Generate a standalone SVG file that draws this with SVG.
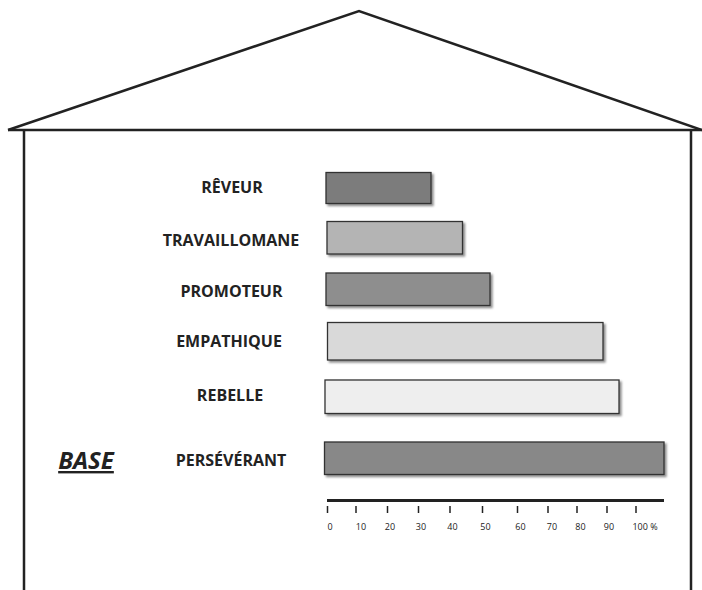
<svg xmlns="http://www.w3.org/2000/svg" width="702" height="590" viewBox="0 0 702 590">
<defs>
<filter id="sh" x="-10%" y="-20%" width="120%" height="160%">
<feDropShadow dx="2" dy="2" stdDeviation="1.2" flood-color="#000" flood-opacity="0.45"/>
</filter>
<style>
.house{fill:none;stroke:#222;stroke-width:2.5;stroke-linejoin:miter}
.bar{stroke:#333;stroke-width:1.3;filter:url(#sh)}
.lbl{font-family:"Open Sans","Liberation Sans",sans-serif;font-weight:bold;font-size:16px;fill:#222;text-anchor:middle}
.ax{font-family:"Open Sans","Liberation Sans",sans-serif;font-size:9px;fill:#222;text-anchor:middle}
.tick{stroke:#222;stroke-width:1.5}
</style>
</defs>
<rect width="702" height="590" fill="#fff"/>
<g id="house">
<polyline class="house" points="8,130 359,11 702,130"/>
<line class="house" x1="8" y1="130" x2="702" y2="130"/>
<line class="house" x1="24" y1="130" x2="24" y2="590"/>
<line class="house" x1="691" y1="130" x2="691" y2="590"/>
</g>
<g id="reveur">
<rect class="bar" x="326" y="172.5" width="105" height="31" fill="#7c7c7c"/>
<text class="lbl" x="232" y="193">RÊVEUR</text>
</g>
<g id="travaillomane">
<rect class="bar" x="327" y="221.5" width="135.5" height="32.5" fill="#b4b4b4"/>
<text class="lbl" x="231" y="245.5">TRAVAILLOMANE</text>
</g>
<g id="promoteur">
<rect class="bar" x="326" y="273" width="164" height="32.5" fill="#8e8e8e"/>
<text class="lbl" x="231.5" y="297">PROMOTEUR</text>
</g>
<g id="empathique">
<rect class="bar" x="327.5" y="322.5" width="275.5" height="37.5" fill="#d9d9d9"/>
<text class="lbl" x="229" y="346.5">EMPATHIQUE</text>
</g>
<g id="rebelle">
<rect class="bar" x="325" y="380" width="294" height="33.5" fill="#eeeeee"/>
<text class="lbl" x="230" y="401">REBELLE</text>
</g>
<g id="perseverant">
<rect class="bar" x="324.5" y="442" width="339.5" height="32.5" fill="#888888"/>
<text class="lbl" x="231" y="465.5">PERSÉVÉRANT</text>
</g>
<g id="base">
<text x="86" y="469" font-family="'Open Sans','Liberation Sans',sans-serif" font-weight="bold" font-style="italic" font-size="24" fill="#222" text-anchor="middle" text-decoration="underline">BASE</text>
</g>
<g id="axis">
<line x1="327" y1="500.5" x2="664" y2="500.5" stroke="#222" stroke-width="3"/>
<line class="tick" x1="327.5" y1="506" x2="327.5" y2="513"/>
<line class="tick" x1="356" y1="506" x2="356" y2="513"/>
<line class="tick" x1="387.5" y1="506" x2="387.5" y2="513"/>
<line class="tick" x1="418.5" y1="506" x2="418.5" y2="513"/>
<line class="tick" x1="450" y1="506" x2="450" y2="513"/>
<line class="tick" x1="482.5" y1="506" x2="482.5" y2="513"/>
<line class="tick" x1="517.5" y1="506" x2="517.5" y2="513"/>
<line class="tick" x1="548" y1="506" x2="548" y2="513"/>
<line class="tick" x1="577" y1="506" x2="577" y2="513"/>
<line class="tick" x1="607" y1="506" x2="607" y2="513"/>
<line class="tick" x1="636" y1="506" x2="636" y2="513"/>
<text class="ax" x="330" y="530">0</text>
<text class="ax" x="361" y="530">10</text>
<text class="ax" x="390" y="530">20</text>
<text class="ax" x="421" y="530">30</text>
<text class="ax" x="452.5" y="530">40</text>
<text class="ax" x="485.5" y="530">50</text>
<text class="ax" x="520.5" y="530">60</text>
<text class="ax" x="552" y="530">70</text>
<text class="ax" x="580.5" y="530">80</text>
<text class="ax" x="609" y="530">90</text>
<text class="ax" x="645" y="530">100 %</text>
</g>
</svg>
